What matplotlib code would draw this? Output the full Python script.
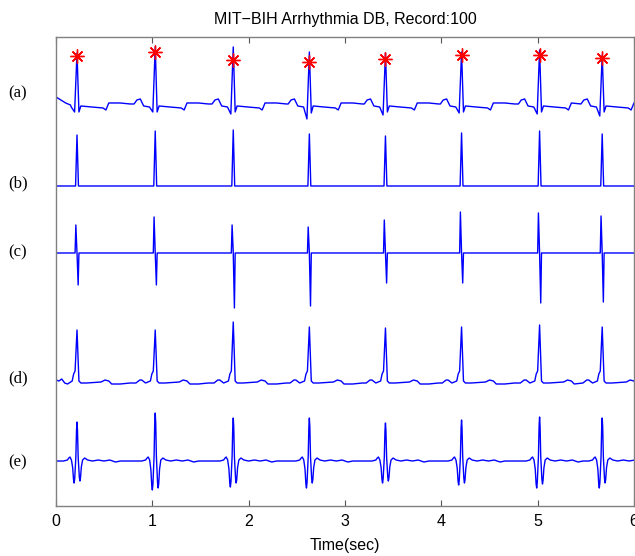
import numpy as np
import matplotlib
matplotlib.use("Agg")
import matplotlib.pyplot as plt
from matplotlib import transforms

# ── 数据（读图估计，纵轴为任意单位）──
beat_times = [0.218, 1.03, 1.84, 2.63, 3.42, 4.21, 5.02, 5.67]

# (a) 原始 ECG
a_base = 399
a_r = [54, 60, 60, 55, 54, 55, 57, 52]
a_q = [-5, -5, -7, -12, -8, -6, -7, -9]
a_s = [-5, -5, -5, -6, -5, -5, -5, -5]
a_star = [51, 55, 47, 45, 48, 52, 52, 49]
a_start_t = [0.0, 0.05, 0.10, 0.15]
a_start_v = [10, 7, 4, 2]
a_pre_t = [-0.22, -0.19, -0.155, -0.12, -0.06]
a_pre_v = [3, 7, 8, 1, 0]
a_post_t = [0.04, 0.15, 0.27, 0.30, 0.33, 0.45, 0.55]
a_post_v = [1, 0, -1, -3, 4, 4, 3]

# (b) 检测脉冲
b_base = 320
b_peak = [51, 55, 56, 52, 50, 53, 55, 52]

# (c) 双极性脉冲
c_base = 253
c_up = [28, 36, 28, 26, 33, 41, 40, 37]
c_down = [-32, -32, -55, -53, -30, -30, -50, -49]

# (d) 去基线漂移后的 ECG
d_base = 123
d_r = [53, 53, 61, 56, 55, 56, 58, 56]
d_start_t = [0.0, 0.03, 0.06, 0.09, 0.12]
d_start_v = [3, 2, 4, 0, -1]
d_pre_t = [-0.20, -0.16, -0.14, -0.10, -0.05, -0.035, -0.02]
d_pre_v = [0, 3, 3, 0, 2, 9, 12]
d_post_t = [0.02, 0.04, 0.10, 0.25, 0.29, 0.33, 0.36, 0.45, 0.55]
d_post_v = [2, 0, 0, 1, 3, 2, -1, -1, 0]

# (e) 带通滤波后的 ECG
e_base = 45
e_peak = [39, 48, 43, 43, 38, 41, 44, 43]
e_tr1 = [-22, -29, -26, -27, -22, -24, -27, -27]
e_tr2 = [-20, -27, -22, -22, -20, -22, -23, -22]
e_pre_t = [-0.14, -0.10, -0.085, -0.073, -0.058]
e_pre_v = [0, 1, 3, 4, 1]
e_post_t = [0.058, 0.08, 0.11, 0.16, 0.22, 0.28, 0.34, 0.40, 0.45, 0.55]
e_post_v = [1, 3, 1, 0, 1, 0, 1, -1, 0, 0]
# QRS 形状：相对时刻和对应的幅值来源 (0=谷1, 1=峰, 2=谷2) 及比例
e_qrs_t = [-0.045, -0.036, -0.03, -0.024, -0.012, -0.005, 0.0, 0.005,
           0.012, 0.024, 0.03, 0.036, 0.045]
e_qrs_src = [0, 0, 0, 0, 1, 1, 1, 1, 1, 2, 2, 2, 2]
e_qrs_w = [0.3, 0.85, 1.0, 0.8, 0.1, 0.8, 1.0, 0.8, 0.1, 0.8, 1.0, 0.85, 0.3]

labels = ["(a)", "(b)", "(c)", "(d)", "(e)"]
label_y = [413, 323, 254, 128, 44]

T_END = 6.0


def build(base, qrs_t, qrs_v, pre_t=(), pre_v=(), post_t=(), post_v=(),
          start_t=(0.0,), start_v=(0,)):
    """按心拍时刻拼接模板点。qrs_v 每行对应一个心拍。"""
    ts = list(start_t)
    vs = list(start_v)
    n = len(beat_times)
    for i, bt in enumerate(beat_times):
        nxt = beat_times[i + 1] if i + 1 < n else T_END + 1.0
        first_pre = pre_t[0] if len(pre_t) else -0.03
        for rt, rv in zip(pre_t, pre_v):
            if bt + rt > ts[-1]:
                ts.append(bt + rt)
                vs.append(rv)
        for rt, rv in zip(qrs_t, qrs_v[i]):
            ts.append(bt + rt)
            vs.append(rv)
        for rt, rv in zip(post_t, post_v):
            if bt + rt < nxt + first_pre:
                ts.append(bt + rt)
                vs.append(rv)
    if ts[-1] < T_END:
        ts.append(T_END)
        vs.append(0)
    return np.array(ts), base + np.array(vs)


e_rows = []
for k in range(len(beat_times)):
    amp = (e_tr1[k], e_peak[k], e_tr2[k])
    e_rows.append([w * amp[s] for s, w in zip(e_qrs_src, e_qrs_w)])

ta, ya = build(a_base, [-0.025, 0.0, 0.02],
               list(zip(a_q, a_r, a_s)),
               a_pre_t, a_pre_v, a_post_t, a_post_v, a_start_t, a_start_v)
tb, yb = build(b_base, [-0.015, 0.0, 0.015],
               [(0, p, 0) for p in b_peak])
tc, yc = build(c_base, [-0.02, -0.012, 0.0, 0.012, 0.02],
               [(0, u, 0, d, 0) for u, d in zip(c_up, c_down)])
td, yd = build(d_base, [0.0], [(r,) for r in d_r],
               d_pre_t, d_pre_v, d_post_t, d_post_v, d_start_t, d_start_v)
te, ye = build(e_base, e_qrs_t, e_rows,
               e_pre_t, e_pre_v, e_post_t, e_post_v)

# ── 画图 ──
plt.rcParams['font.family'] = ['Liberation Sans', 'DejaVu Sans']

fig = plt.figure(figsize=(6.35, 5.56), dpi=100)
ax = fig.add_axes([0.0882, 0.0899, 0.9102, 0.8436])

for t, y in [(ta, ya), (tb, yb), (tc, yc), (td, yd), (te, ye)]:
    ax.plot(t, y, color='#0000ff', lw=1.0)

ax.plot(beat_times, a_base + np.array(a_star), linestyle='none',
        marker=(8, 2, 0), color='#ff0000', markersize=10, markeredgewidth=1.0)

ax.set_xlim(0, 6)
ax.set_ylim(0, 469)
ax.set_yticks([])
ax.set_xticks(range(7))
ax.tick_params(axis='x', direction='in', top=True, length=4,
               color='#555555', labelsize=11.5, pad=6)
for sp in ax.spines.values():
    sp.set_color('#808080')
    sp.set_linewidth(1.0)

ax.set_title("MIT\u2212BIH Arrhythmia DB, Record:100", fontsize=11.5, pad=9)
ax.set_xlabel("Time(sec)", fontsize=11.5, labelpad=6)

trans = transforms.blended_transform_factory(fig.transFigure, ax.transData)
for lab, ly in zip(labels, label_y):
    ax.text(0.028, ly, lab, transform=trans, ha='center', va='center',
            fontsize=12, family=['Liberation Serif', 'DejaVu Serif'])

fig.savefig("out.png", dpi=100)
